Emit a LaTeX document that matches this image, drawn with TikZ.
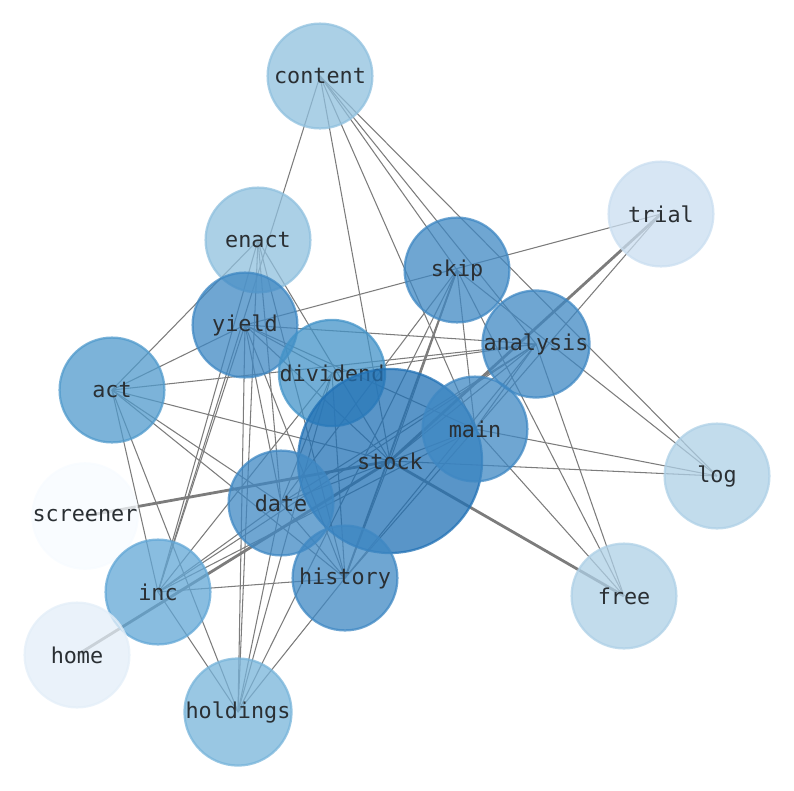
\documentclass[tikz,border=0pt]{standalone}
\usepackage{fontspec}
\setmonofont{DejaVu Sans Mono}
\usetikzlibrary{backgrounds}
\definecolor{tone0}{HTML}{F7FBFF}
\definecolor{tone1}{HTML}{E3EEF8}
\definecolor{tone2}{HTML}{CADEF0}
\definecolor{tone3}{HTML}{AED0E6}
\definecolor{tone4}{HTML}{8FC0DE}
\definecolor{tone5}{HTML}{77B4DA}
\definecolor{tone6}{HTML}{62A7D6}
\definecolor{tone7}{HTML}{509ACC}
\definecolor{tone8}{HTML}{4393C8}
\definecolor{tone9}{HTML}{3F88C3}
\definecolor{tone10}{HTML}{2171B5}
\definecolor{linkgray}{HTML}{7C7C7C}
\definecolor{wordgray}{HTML}{2A2F33}

\begin{document}
\begin{tikzpicture}[x=0.025cm,y=-0.025cm,
	word/.style={circle,minimum size=2.62cm,inner sep=0pt,fill=#1,draw=#1,
		fill opacity=0.75,draw opacity=0.75,text opacity=1,line width=1.6pt,
		text=wordgray,font=\ttfamily\fontsize{15.5}{16}\selectfont},
	link/.style={draw=linkgray,line width=0.75pt},
	midlink/.style={draw=linkgray,line width=1.3pt},
	heavylink/.style={draw=linkgray,line width=2pt}]
	\useasboundingbox (0,0) rectangle (794,790);
	\node[word=tone4] (content) at (320,76) {content};
	\node[word=tone4] (enact) at (258,240) {enact};
	\node[word=tone2] (trial) at (661,214) {trial};
	\node[word=tone9] (skip) at (457,270) {skip};
	\node[word=tone9] (yield) at (245,325) {yield};
	\node[word=tone9] (analysis) at (536,344) {analysis};
	\node[word=tone8] (dividend) at (332,373) {dividend};
	\node[word=tone7] (act) at (112,390) {act};
	\node[word=tone10,minimum size=4.6cm] (stock) at (390,461) {stock};
	\node[word=tone9] (main) at (475,429) {main};
	\node[word=tone3] (log) at (717,476) {log};
	\node[word=tone0] (screener) at (85,516) {screener};
	\node[word=tone9] (date) at (281,503) {date};
	\node[word=tone3] (free) at (624,596) {free};
	\node[word=tone6] (inc) at (158,592) {inc};
	\node[word=tone9] (history) at (345,578) {history};
	\node[word=tone1] (home) at (77,655) {home};
	\node[word=tone5] (holdings) at (238,712) {holdings};
	\begin{scope}[on background layer]
		\foreach \a/\b in {content/inc,content/stock,content/main,content/skip,
			content/analysis,content/log,enact/act,enact/inc,enact/holdings,
			enact/date,enact/history,enact/stock,trial/yield,
			trial/main,skip/log,skip/free,skip/date,skip/main,skip/holdings,
			skip/stock,yield/act,yield/analysis,yield/dividend,yield/main,
			yield/stock,yield/date,yield/history,yield/inc,yield/holdings,
			analysis/act,analysis/free,analysis/dividend,analysis/stock,
			analysis/date,analysis/inc,analysis/history,analysis/main,
			dividend/date,dividend/history,dividend/inc,dividend/holdings,
			act/stock,act/date,act/history,act/inc,act/holdings,main/log,
			main/free,main/date,main/inc,main/history,stock/log,stock/history,
			date/inc,date/holdings,date/history,inc/history,inc/holdings,
			history/holdings}
			\draw[link] (\a.center) -- (\b.center);
		\draw[midlink] (skip.center) -- (history.center);
		\foreach \a/\b in {stock/trial,stock/free,stock/screener,stock/home}
			\draw[heavylink] (\a.center) -- (\b.center);
	\end{scope}
\end{tikzpicture}
\end{document}
